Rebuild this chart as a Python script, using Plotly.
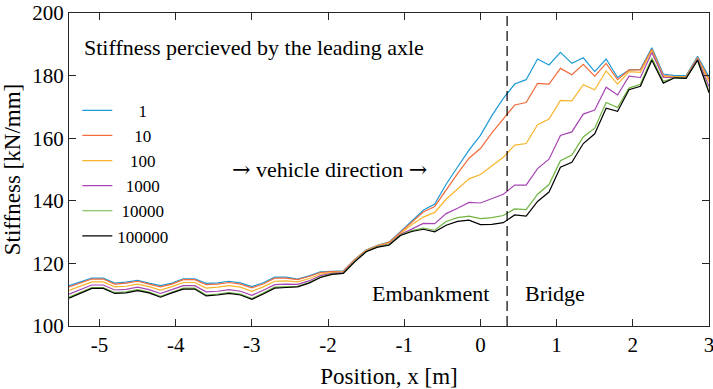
import numpy as np
import plotly.graph_objects as go

# Position grid (m)
position = np.round(np.arange(57) * 0.15 - 5.4, 2)

series_names = ["1", "10", "100", "1000", "10000", "100000"]
legend_labels = ["\u2007\u2007\u20081", "\u2007\u200710", "\u2007\u2008100", "\u20071000", "\u200810000", "100000"]

stiff_1 = [112.9, 114.1, 115.3, 115.3, 113.7, 114.0, 114.6, 113.7, 112.9, 113.7, 115.1, 115.1, 113.6, 113.8, 114.3, 113.8, 112.6, 113.8, 115.6, 115.6, 115.0, 116.0, 117.3, 117.5, 117.6,
           121.3, 124.3, 125.8, 126.8, 130.1, 133.6, 137.0, 139.0,
           145.3, 150.8, 156.2, 160.9, 167.2, 172.7, 177.3, 178.7, 185.3,
           183.4, 187.4, 183.9, 185.7, 181.3, 185.3, 179.4, 181.8,
           182.0, 188.9, 180.5, 180.0, 180.0, 186.2, 179.6]
stiff_10 = [112.5, 113.7, 115.0, 115.0, 113.4, 113.7, 114.3, 113.4, 112.5, 113.4, 114.8, 114.8, 113.2, 113.4, 113.9, 113.4, 112.2, 113.4, 115.3, 115.3, 114.8, 115.8, 117.1, 117.4, 117.5,
            121.2, 124.2, 125.7, 126.7, 129.9, 133.1, 136.4, 138.2,
            143.5, 148.7, 153.6, 156.7, 161.7, 166.1, 170.6, 171.4, 177.5,
            177.3, 182.3, 180.3, 183.6, 179.8, 183.9, 178.7, 181.8,
            181.8, 188.4, 180.0, 179.7, 179.8, 185.8, 178.8]
stiff_100 = [111.4, 112.8, 114.1, 114.1, 112.5, 112.7, 113.4, 112.6, 111.5, 112.6, 113.9, 113.9, 112.1, 112.4, 112.9, 112.4, 111.1, 112.5, 114.3, 114.4, 114.1, 115.1, 116.6, 117.1, 117.3,
             121.0, 124.1, 125.6, 126.5, 129.5, 132.4, 134.8, 136.3,
             140.5, 143.9, 147.0, 148.4, 151.2, 153.9, 157.8, 158.3, 164.3,
             166.1, 172.1, 171.9, 177.1, 175.5, 181.5, 177.3, 181.3,
             181.0, 188.0, 179.6, 179.6, 179.6, 185.6, 178.0]
stiff_1000 = [110.2, 111.6, 113.1, 113.1, 111.5, 111.7, 112.4, 111.6, 110.4, 111.6, 112.9, 112.9, 110.9, 111.1, 111.6, 111.1, 109.8, 111.4, 113.2, 113.4, 113.3, 114.4, 116.1, 116.8, 117.1,
              120.8, 123.9, 125.4, 126.2, 129.2, 130.9, 132.8, 132.7,
              135.9, 137.6, 139.5, 139.3, 140.8, 142.1, 145.0, 145.0, 150.3,
              153.3, 160.9, 162.0, 167.7, 169.0, 176.3, 173.8, 179.8,
              179.4, 187.4, 179.4, 179.4, 179.4, 185.4, 176.5]
stiff_10000 = [109.2, 110.8, 112.3, 112.3, 110.7, 110.9, 111.6, 110.8, 109.5, 110.8, 112.1, 112.1, 109.9, 110.2, 110.7, 110.2, 108.8, 110.5, 112.4, 112.6, 112.7, 113.9, 115.6, 116.6, 116.9,
               120.6, 123.8, 125.3, 126.0, 129.0, 130.5, 131.3, 130.6,
               133.4, 134.6, 135.1, 134.3, 134.6, 135.3, 137.4, 137.2, 142.1,
               145.2, 152.8, 154.6, 160.4, 163.2, 171.4, 169.8, 176.0,
               177.2, 185.6, 178.2, 179.3, 179.2, 185.0, 175.0]
stiff_100000 = [108.9, 110.5, 112.0, 112.0, 110.4, 110.6, 111.3, 110.6, 109.2, 110.6, 111.8, 111.8, 109.6, 109.9, 110.4, 109.9, 108.5, 110.2, 112.1, 112.3, 112.5, 113.7, 115.5, 116.5, 116.8,
                120.5, 123.7, 125.2, 125.8, 128.9, 130.2, 130.9, 130.1,
                132.2, 133.4, 133.8, 132.4, 132.5, 133.0, 135.5, 135.1, 139.8,
                142.8, 150.7, 152.3, 158.3, 161.4, 169.6, 168.6, 175.5,
                176.6, 184.9, 177.6, 179.3, 179.1, 184.9, 174.5]

all_series = [stiff_1, stiff_10, stiff_100, stiff_1000, stiff_10000, stiff_100000]
colors = ["#1C9AD6", "#F26B3A", "#F7B52C", "#A645B3", "#6EB43F", "#000000"]

x_ticks = [-5, -4, -3, -2, -1, 0, 1, 2, 3]
x_tick_text = ["-5", "-4", "-3", "-2", "-1", "0", "1", "2", "3"]
y_ticks = [100, 120, 140, 160, 180, 200]
interface_x = 0.35

FONT = "Liberation Serif"
AX = "#262626"
ARROW = '<span style="font-family:DejaVu Serif">\u2192</span>'

fig = go.Figure()
for vals, lab, col in zip(all_series, legend_labels, colors):
    fig.add_trace(go.Scatter(x=position, y=vals, mode="lines", name=lab,
                             line=dict(color=col, width=1.2)))

fig.add_shape(type="line", xref="x", yref="paper", x0=interface_x, x1=interface_x, y0=0, y1=1,
              line=dict(color="#000000", width=1.2, dash="10px,5px"))

fig.add_annotation(text="Stiffness percieved by the leading axle", xref="paper", yref="paper",
                   x=0.02, y=0.89, xanchor="left", yanchor="middle", showarrow=False,
                   font=dict(family=FONT, size=22, color="#000"))
fig.add_annotation(text=ARROW + " vehicle direction " + ARROW, xref="paper", yref="paper",
                   x=0.2516, y=0.50, xanchor="left", yanchor="middle", showarrow=False,
                   font=dict(family=FONT, size=22, color="#000"))
fig.add_annotation(text="Embankment", xref="paper", yref="paper",
                   x=0.659, y=0.105, xanchor="right", yanchor="middle", showarrow=False,
                   font=dict(family=FONT, size=22, color="#000"))
fig.add_annotation(text="Bridge", xref="paper", yref="paper",
                   x=0.709, y=0.105, xanchor="left", yanchor="middle", showarrow=False,
                   font=dict(family=FONT, size=22, color="#000"))

fig.update_layout(
    width=713, height=389,
    margin=dict(l=69, r=4, t=13, b=63, autoexpand=False),
    paper_bgcolor="white", plot_bgcolor="white",
    font=dict(family=FONT, size=21, color="#000"),
    showlegend=True,
    legend=dict(x=0.013, y=0.745, xanchor="left", yanchor="top",
                bgcolor="rgba(0,0,0,0)", borderwidth=0,
                font=dict(family=FONT, size=17, color="#000"),
                itemwidth=30, tracegroupgap=0),
    xaxis=dict(range=[-5.4, 3.0], tickmode="array", tickvals=x_ticks, ticktext=x_tick_text,
               ticks="inside", ticklen=7, tickcolor=AX, showline=True, linecolor=AX, linewidth=1,
               mirror="ticks", showgrid=False, zeroline=False, ticklabeloverflow="allow",
               title=dict(text="Position, x [m]", font=dict(family=FONT, size=23), standoff=12),
               automargin=False),
    yaxis=dict(range=[100, 200], tickmode="array", tickvals=y_ticks,
               ticks="inside", ticklen=7, tickcolor=AX, showline=True, linecolor=AX, linewidth=1,
               mirror="ticks", showgrid=False, zeroline=False, ticklabeloverflow="allow",
               title=dict(text="Stiffness [kN/mm]", font=dict(family=FONT, size=23), standoff=6),
               automargin=False),
)

fig.write_html("out.html", config={"displayModeBar": False},
               post_script="document.body.style.margin='0';document.body.style.overflow='hidden';")
